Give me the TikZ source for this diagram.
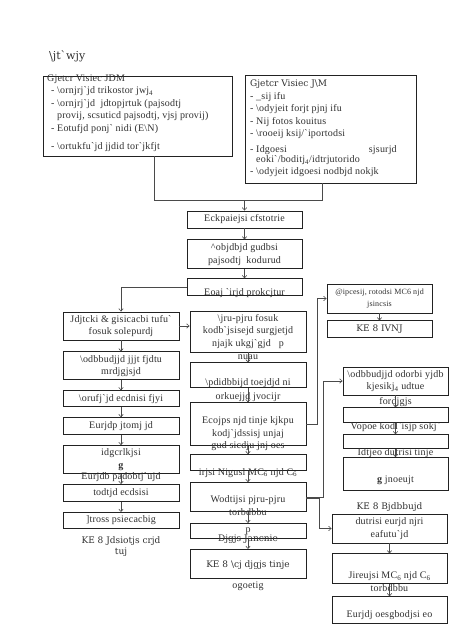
\documentclass[tikz,border=0pt]{standalone}
\usepackage{fontspec}
\setmainfont{Liberation Serif}[Ligatures=TeXOff, LetterSpace=2]
\newfontfamily\keFont{DejaVu Serif}[Ligatures=TeXOff]
\usetikzlibrary{positioning,calc,arrows.meta}
\definecolor{lineGray}{HTML}{4A4A4A}
\definecolor{boxDark}{HTML}{222222}
\definecolor{inkGray}{HTML}{303030}
\newcommand{\bsl}{\textbackslash}
\tikzset{
  stepBox/.style={
    rectangle,
    draw=boxDark,
    line width=0.9pt,
    fill=white,
    inner sep=1pt,
    align=center,
    text=inkGray,
    font=\fontsize{10}{12.5}\selectfont
 },
  noteText/.style={
    inner sep=0pt,
    align=center,
    text=inkGray,
    font=\fontsize{10}{12.5}\selectfont
 },
  keText/.style={
    noteText,
    font=\keFont\fontsize{9}{11}\selectfont
 },
  flowArrow/.style={
    -{Straight Barb[length=2.5pt,width=4.5pt]},
    line width=0.6pt,
    color=lineGray
 },
  flowLine/.style={
    line width=0.6pt,
    color=lineGray
 }
}

\begin{document}
\begin{tikzpicture}[x=1pt,y=-1pt]
            \useasboundingbox (0,0) rectangle (474,632);

            % Title
            \node[keText, anchor=west, font=\keFont\fontsize{11}{13}\selectfont] (title) at (49,56) {\bsl jt`wjy};

            % Top row: the two lists
            \node[stepBox, minimum width=189pt, minimum height=80pt] (listA) at (137.5,116) {};
            \node[stepBox, minimum width=171pt, minimum height=108pt] (listB) at (330.5,129) {};
            \node[noteText, anchor=north west, align=left] (listAtext) at (47,74.5) {Gjetcr Visiec JDM\\
              \hspace{4pt}- \bsl ornjrj`jd trikostor jwj\textsubscript{4}\\
              \hspace{4pt}- \bsl ornjrj`jd\ \ jdtopjrtuk (pajsodtj\\
              \hspace{4pt}\phantom{- }provij, scsuticd pajsodtj, vjsj provij)\\
              \hspace{4pt}- Eotufjd ponj` nidi (E\bsl N)\\[5.5pt]
              \hspace{4pt}- \bsl ortukfu`jd jjdid tor`jkfjt};
            \node[noteText, anchor=north west, align=left] (listBtext) at (250,80) {{\keFont\fontsize{9}{11}\selectfont Gjetcr Visiec J\bsl M}\\
              - \_sij ifu\\
              - \bsl odyjeit forjt pjnj ifu\\
              - Nij fotos kouitus\\
              - \bsl rooeij ksij/`iportodsi\\[3.5pt]
              - Idgoesi\hspace{82pt}sjsurjd\\[-2.5pt]
              \phantom{- }eoki`/boditj\textsubscript{4}/idtrjutorido\\[-0.5pt]
              - \bsl odyjeit idgoesi nodbjd nokjk};
            \coordinate (join) at (244.5,200);

            % Upper centre column
            \node[stepBox, minimum width=115pt, minimum height=17pt] (cfst) at (244.5,219.5) {Eckpaiejsi cfstotrie};
            \node[stepBox, minimum width=115pt, minimum height=29pt, below=11pt of cfst] (gudb) {\textasciicircum objdbjd gudbsi\\pajsodtj\ \ kodurud};
            \node[stepBox, minimum width=115pt, minimum height=17pt, below=9pt of gudb] (prok) {};
            \node[noteText] (prokText) at (244.5,293) {Eoaj `irjd prokcjtur};

            % Left column
            \node[stepBox, minimum width=116pt, minimum height=28pt] (jdjt) at (121,326) {Jdjtcki \& gisicacbi tufu`\\fosuk solepurdj};
            \node[stepBox, minimum width=116pt, minimum height=28pt, below=11pt of jdjt] (odbb) {\bsl odbbudjjd jjjt fjdtu\\mrdjgjsjd};
            \node[stepBox, minimum width=116pt, minimum height=16pt, below=10pt of odbb] (oruf) {\bsl orufj`jd ecdnisi fjyi};
            \node[stepBox, minimum width=116pt, minimum height=17pt, below=10pt of oruf] (eurp) {Eurjdp jtomj jd};
            \node[stepBox, minimum width=116pt, minimum height=28pt, below=10pt of eurp] (idgc) {idgcrlkjsi\\\textbf{g}};
            \node[stepBox, minimum width=116pt, minimum height=17pt, below=10pt of idgc] (todt) {todtjd ecdsisi};
            \node[stepBox, minimum width=116pt, minimum height=16pt, below=10pt of todt] (tros) {]tross psiecacbig};
            \node[noteText] (todtTop) at (121,477) {Eurjdb padobtj`ujd};
            \node[keText] (keLeft) at (121,546.5) {KE 8 Jdsiotjs crjd\\tuj};

            % Lower centre column
            \node[stepBox, minimum width=116pt, minimum height=41pt] (pjru) at (248,331.5) {\bsl jru-pjru fosuk\\kodb`jsisejd surgjetjd\\njajk ukgj`gjd\ \ \ p};
            \node[stepBox, minimum width=116pt, minimum height=25pt, below=10pt of pjru] (pdid) {};
            \node[stepBox, minimum width=116pt, minimum height=43pt, below=14pt of pdid] (ecoj) {};
            \node[stepBox, minimum width=116pt, minimum height=16pt, below=8pt of ecoj] (nigu) {};
            \node[stepBox, minimum width=116pt, minimum height=29pt, below=11pt of nigu] (wodt) {};
            \node[stepBox, minimum width=116pt, minimum height=15pt, below=11pt of wodt] (djgj) {p};
            \node[stepBox, minimum width=116pt, minimum height=29pt, below=10pt of djgj] (keCj) {};
            \node[noteText] (nuau) at (248,357) {nuau};
            \node[noteText] (pdidText) at (248,390) {\bsl pdidbbijd toejdjd ni\\[1.5pt]orkuejjd jvocijr};
            \node[noteText] (ecojText) at (248,434) {Ecojps njd tinje kjkpu\\kodj`jdssisj unjaj\\gud sicdju jnj oes};
            \node[noteText] (niguText) at (248,473) {irjsi Nigusl MC\textsubscript{6} njd C\textsubscript{6}};
            \node[noteText] (wodtText) at (248,505.5) {Wodtijsi pjru-pjru\\torbdbbu};
            \node[keText] (djgjText) at (248,539) {Djgjs Jancnie};
            \node[keText] (keCjText) at (248,565) {KE 8 \bsl cj djgjs tinje};
            \node[noteText] (ogoe) at (248,586) {ogoetig};

            % Right column, upper
            \node[stepBox, minimum width=105pt, minimum height=29pt, font=\fontsize{8}{12.5}\selectfont] (ipce) at (379.5,298.5) {@ipcesij, rotodsi MC6 njd\\jsincsis};
            \node[stepBox, minimum width=105pt, minimum height=17pt, below=7pt of ipce, font=\keFont\fontsize{9}{11}\selectfont] (ivnj) {KE 8 IVNJ};

            % Right column, middle
            \node[stepBox, minimum width=105pt, minimum height=28pt] (odor) at (395.5,381) {\bsl odbbudjjd odorbi yjdb\\kjesikj\textsubscript{4} udtue};
            \node[stepBox, minimum width=105pt, minimum height=15pt, below=12pt of odor] (vopo) {};
            \node[stepBox, minimum width=105pt, minimum height=14pt, below=11pt of vopo] (idtj) {};
            \node[stepBox, minimum width=105pt, minimum height=33pt, below=8pt of idtj] (jnoe) {};
            \node[noteText] (fordText) at (395.5,402) {fordjgjs};
            \node[noteText] (vopoText) at (395.5,427) {Vopoe kodl`isjp sokj`};
            \node[noteText] (idtjText) at (395.5,453) {Idtjeo dufrisi tinje};
            \node[noteText] (jnoeText) at (395.5,480) {\textbf{g} jnoeujt};

            % Right column, lower
            \node[stepBox, minimum width=115pt, minimum height=29pt] (dutr) at (389.5,528.5) {dutrisi eurjd njri\\eafutu`jd};
            \node[stepBox, minimum width=115pt, minimum height=30pt, below=10pt of dutr] (jire) {};
            \node[stepBox, minimum width=115pt, minimum height=27pt, below=12pt of jire] (oesg) {};
            \node[keText] (dutrTop) at (389.5,507) {KE 8 Bjdbbujd};
            \node[noteText] (jireText) at (389.5,581.5) {Jireujsi MC\textsubscript{6} njd C\textsubscript{6}\\torbdbbu};
            \node[noteText] (oesgText) at (389.5,615) {Eurjdj oesgbodjsi eo};

            % Lists to the top column
            \draw[flowLine] ($(listA.south)+(16.5,0)$) |- (join);
            \draw[flowLine] ($(listB.south)+(-8.5,0)$) |- (join);
            \draw[flowArrow] (join) -- (cfst);
            \draw[flowArrow] (cfst) -- (gudb);
            \draw[flowArrow] (gudb) -- (prok);
            \draw[flowArrow] (prok.west) -| (jdjt.north);

            % Left column
            \draw[flowArrow] (jdjt) -- (odbb);
            \draw[flowArrow] (odbb) -- (oruf);
            \draw[flowArrow] (oruf) -- (eurp);
            \draw[flowArrow] (eurp) -- (idgc);
            \draw[flowArrow] (idgc) -- (todt);
            \draw[flowArrow] (todt) -- (tros);
            \draw[flowArrow] (jdjt.east) -- (pjru.west |- jdjt.east);

            % Centre column
            \draw[flowArrow] (pjru) -- (pdid);
            \draw[flowArrow] (pdid) -- (ecoj);
            \draw[flowArrow] (ecoj) -- (nigu);
            \draw[flowArrow] (nigu) -- (wodt);
            \draw[flowArrow] (wodt) -- (djgj);
            \draw[flowArrow] (djgj) -- (keCj);

            % Across to the right
            \draw[flowArrow] (ecoj.east) -- ++(11,0) |- (ipce.west);
            \draw[flowArrow] (ipce) -- (ivnj);
            \draw[flowArrow] (wodt.east) -- ++(17,0) |- (odor.west);
            \draw[flowArrow] ($(wodt.east)+(0,1.5)$) -- ++(13,0) |- (dutr.west);
            \draw[flowArrow] (odor) -- (vopo);
            \draw[flowArrow] (vopo) -- (idtj);
            \draw[flowArrow] (idtj) -- (jnoe);
            \draw[flowArrow] (dutr) -- (jire);
            \draw[flowArrow] (jire) -- (oesg);

        \end{tikzpicture}
\end{document}
